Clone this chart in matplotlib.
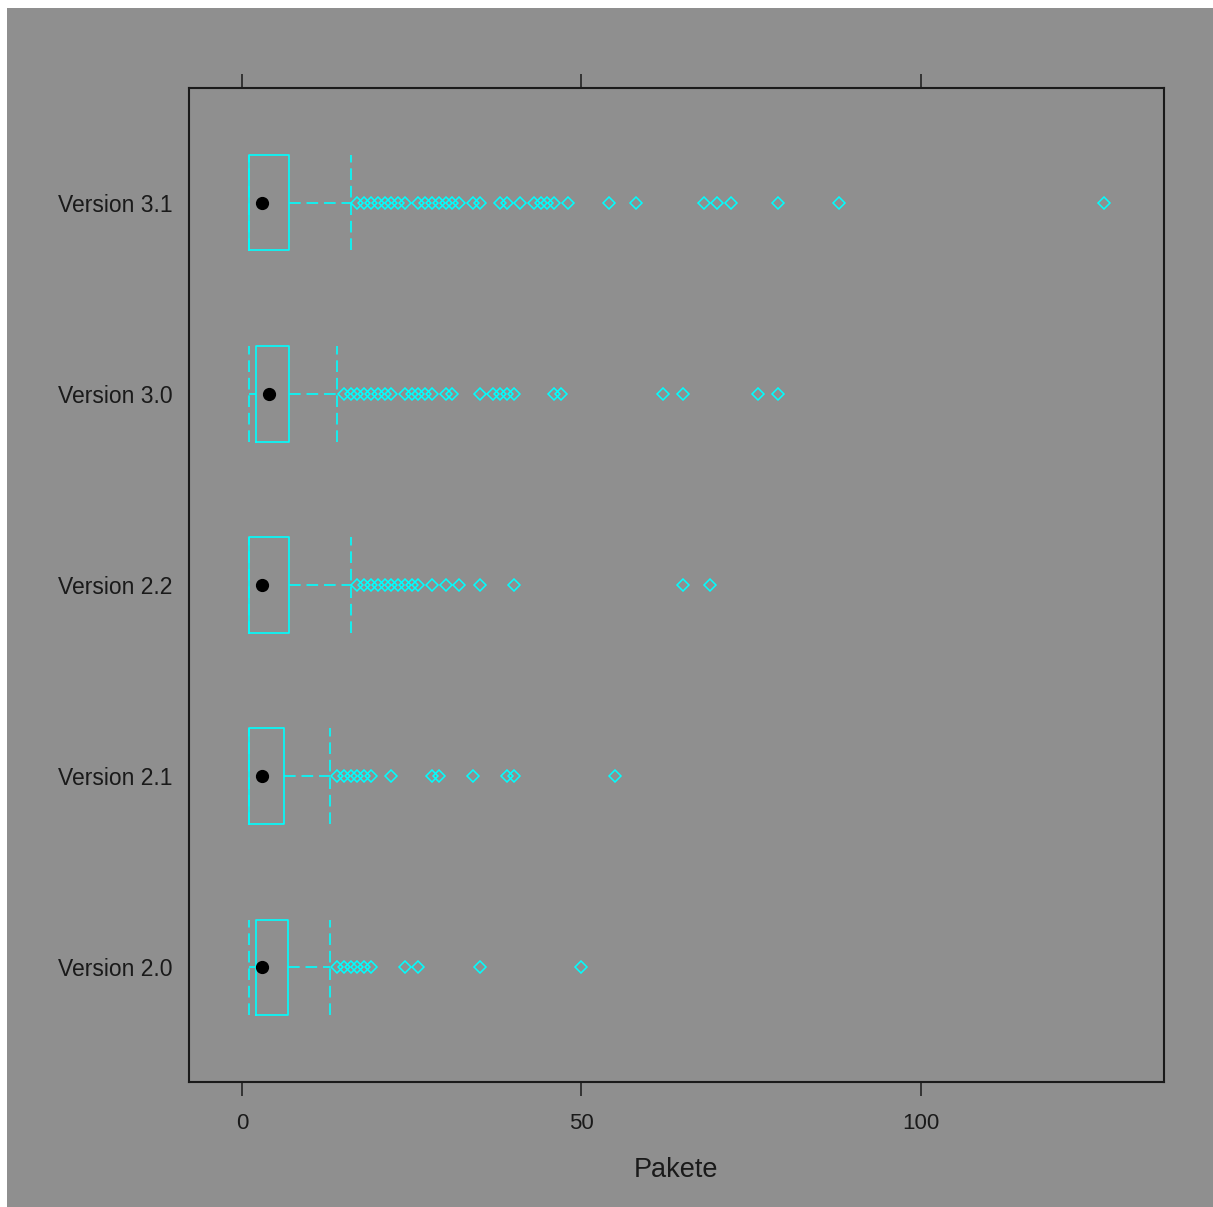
import matplotlib
matplotlib.use("Agg")
import matplotlib.pyplot as plt
from matplotlib.patches import Rectangle

plt.rcParams['font.family'] = ['Liberation Sans', 'DejaVu Sans']

# data (Pakete per version)
labels = ["Version 2.0", "Version 2.1", "Version 2.2", "Version 3.0", "Version 3.1"]
q1 = [2, 1, 1, 2, 1]
med = [3, 3, 3, 4, 3]
q3 = [6.75, 6.25, 7, 7, 7]
whislo = [1, 1, 1, 1, 1]
whishi = [13, 13, 16, 14, 16]
fliers = [
    [14, 15, 16, 17, 18, 19, 24, 26, 35, 50],
    [14, 15, 16, 17, 18, 19, 22, 28, 29, 34, 39, 40, 55],
    [17, 18, 19, 20, 21, 22, 23, 24, 25, 26, 28, 30, 32, 35, 40, 65, 69],
    [15, 16, 17, 18, 19, 20, 21, 22, 24, 25, 26, 27, 28, 30, 31, 35,
     37, 38, 39, 40, 46, 47, 62, 65, 76, 79],
    [17, 18, 19, 20, 21, 22, 23, 24, 26, 27, 28, 29, 30, 31, 32, 34, 35,
     38, 39, 41, 43, 44, 45, 46, 48, 54, 58, 68, 70, 72, 79, 88, 127],
]
xticks = [0, 50, 100]

cyan = '#00ffff'
gray = '#8f8f8f'
dash = (0, (7, 3.5))

fig = plt.figure(figsize=(12.13, 12.07), dpi=100)
fig.patch.set_facecolor('white')
fig.patches.append(Rectangle((7 / 1213, 0), 1, 1 - 8 / 1207, transform=fig.transFigure,
                             facecolor=gray, edgecolor='none', zorder=-10))

ax = fig.add_axes([189 / 1213, 1 - 1082 / 1207, (1164 - 189) / 1213, (1082 - 88) / 1207])
ax.set_facecolor(gray)

pos = list(range(1, len(labels) + 1))
stats = [dict(label=l, q1=a, med=m, q3=b, whislo=lo, whishi=hi, fliers=f)
         for l, a, m, b, lo, hi, f in zip(labels, q1, med, q3, whislo, whishi, fliers)]

ax.bxp(stats, positions=pos, orientation='horizontal', widths=0.5, capwidths=0.5,
       boxprops=dict(color=cyan, lw=1.2),
       whiskerprops=dict(color=cyan, lw=1.2, linestyle=dash),
       capprops=dict(color=cyan, lw=1.2, linestyle=dash),
       medianprops=dict(linestyle='none'),
       flierprops=dict(marker='D', markerfacecolor='none', markeredgecolor=cyan,
                       markersize=6.5, markeredgewidth=1.1))
ax.plot(med, pos, 'o', color='black', markersize=8.5, zorder=5)

ax.set_xlim(-7.8, 135.8)
ax.set_ylim(0.4, 5.6)
ax.set_yticks(pos)
ax.set_yticklabels(labels)
ax.set_xticks(xticks)
ax.tick_params(axis='y', length=0, pad=12, labelsize=16.5, colors='#1a1a1a')
ax.tick_params(axis='x', top=True, labeltop=False, direction='out', length=10,
               width=1.1, pad=12, labelsize=16, colors='#1a1a1a')
for s in ax.spines.values():
    s.set_linewidth(1.5)
    s.set_color('#1a1a1a')
ax.set_xlabel('Pakete', fontsize=19.5, color='#1a1a1a', labelpad=17)

fig.savefig('out.png', dpi=100, facecolor=fig.get_facecolor())
